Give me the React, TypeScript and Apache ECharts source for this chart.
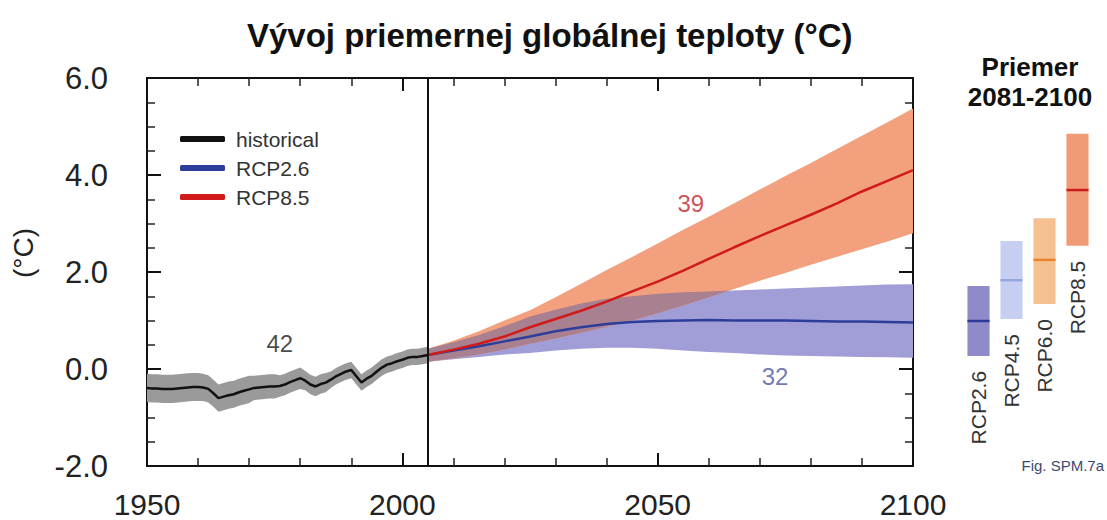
import React, { useEffect, useRef } from "react";
import * as echarts from "echarts";

const FONT = "'Liberation Sans', Arial, Helvetica, sans-serif";

// ---- historical (1950-2005), annual ----
const histStart = 1950;
const histMean = [
  -0.39, -0.4, -0.4, -0.41, -0.41, -0.41, -0.4, -0.39, -0.38, -0.37,
  -0.37, -0.38, -0.41, -0.5, -0.6, -0.57, -0.54, -0.52, -0.48, -0.45,
  -0.42, -0.39, -0.38, -0.37, -0.36, -0.36, -0.35, -0.32, -0.27, -0.23,
  -0.19, -0.24, -0.32, -0.36, -0.31, -0.28, -0.22, -0.15, -0.1, -0.05,
  -0.02, -0.15, -0.28, -0.2, -0.14, -0.05, 0.03, 0.09, 0.12, 0.16,
  0.19, 0.23, 0.25, 0.25, 0.27, 0.29,
];
const histLow = [
  -0.68, -0.69, -0.69, -0.7, -0.7, -0.7, -0.69, -0.68, -0.67, -0.66,
  -0.66, -0.66, -0.69, -0.78, -0.88, -0.85, -0.82, -0.8, -0.76, -0.73,
  -0.7, -0.64, -0.63, -0.62, -0.61, -0.61, -0.57, -0.54, -0.49, -0.45,
  -0.41, -0.44, -0.52, -0.56, -0.51, -0.48, -0.39, -0.32, -0.27, -0.22,
  -0.19, -0.32, -0.45, -0.37, -0.31, -0.22, -0.14, -0.08, -0.05, -0.01,
  0.02, 0.06, 0.08, 0.08, 0.1, 0.12,
];
const histHigh = [
  -0.1, -0.11, -0.11, -0.12, -0.12, -0.12, -0.11, -0.1, -0.09, -0.08,
  -0.08, -0.1, -0.13, -0.22, -0.32, -0.29, -0.26, -0.24, -0.2, -0.17,
  -0.14, -0.14, -0.13, -0.12, -0.11, -0.11, -0.13, -0.1, -0.05, -0.01,
  0.03, -0.04, -0.12, -0.16, -0.11, -0.08, -0.05, 0.02, 0.07, 0.12,
  0.15, 0.02, -0.11, -0.03, 0.03, 0.12, 0.2, 0.26, 0.29, 0.33,
  0.36, 0.4, 0.42, 0.42, 0.44, 0.46,
];
const histYears = histMean.map((_, i) => histStart + i);

// ---- projections (2005-2100), every 5 years ----
const projYears = [
  2005, 2010, 2015, 2020, 2025, 2030, 2035, 2040, 2045, 2050,
  2055, 2060, 2065, 2070, 2075, 2080, 2085, 2090, 2095, 2100,
];
const rcp85Mean = [
  0.29, 0.4, 0.52, 0.67, 0.86, 1.03, 1.2, 1.39, 1.6, 1.8,
  2.03, 2.27, 2.51, 2.74, 2.96, 3.18, 3.41, 3.66, 3.88, 4.1,
];
const rcp85Low = [
  0.15, 0.22, 0.3, 0.4, 0.52, 0.63, 0.75, 0.87, 1.0, 1.15,
  1.31, 1.48, 1.65, 1.82, 1.98, 2.15, 2.31, 2.47, 2.63, 2.8,
];
const rcp85High = [
  0.42, 0.58, 0.78, 1.0, 1.21, 1.48, 1.76, 2.04, 2.31, 2.59,
  2.87, 3.14, 3.42, 3.7, 3.98, 4.25, 4.53, 4.81, 5.09, 5.37,
];
const rcp26Mean = [
  0.29, 0.38, 0.47, 0.57, 0.67, 0.78, 0.86, 0.93, 0.97, 0.99,
  1.0, 1.01, 1.0, 1.0, 1.0, 0.99, 0.98, 0.98, 0.97, 0.96,
];
const rcp26Low = [
  0.15, 0.2, 0.25, 0.3, 0.33, 0.38, 0.42, 0.44, 0.44, 0.42,
  0.38, 0.35, 0.33, 0.3, 0.28, 0.27, 0.26, 0.25, 0.24, 0.23,
];
const rcp26High = [
  0.42, 0.55, 0.7, 0.88, 1.08, 1.22, 1.35, 1.45, 1.5, 1.55,
  1.58, 1.6, 1.62, 1.64, 1.66, 1.68, 1.7, 1.72, 1.74, 1.75,
];

// ---- 2081-2100 averages ----
const avgScenarios = ["RCP2.6", "RCP4.5", "RCP6.0", "RCP8.5"];
const avgLow = [0.27, 1.03, 1.34, 2.54];
const avgHigh = [1.71, 2.64, 3.11, 4.85];
const avgMean = [0.99, 1.83, 2.25, 3.69];

// ---- annotations (model counts) ----
const noteTexts = ["42", "39", "32"];
const noteYears = [1976, 2056.5, 2073];
const noteValues = [0.52, 3.42, -0.16];

// styles
const avgFill = ["#8f8bc9", "#c6cef2", "#f5c190", "#f09a76"];
const avgLine = ["#2b3b97", "#95a8de", "#e8832f", "#cc1b1b"];
const noteColors = ["#1a1a1a", "#c4242a", "#4a55a0"];

function band(xs: number[], lo: number[], hi: number[], fill: string, z: number) {
  return {
    type: "custom",
    xAxisIndex: 0,
    yAxisIndex: 0,
    silent: true,
    z,
    data: [[xs[0], lo[0]]],
    renderItem: (_p: any, api: any) => {
      const pts: number[][] = [];
      for (let i = 0; i < xs.length; i++) pts.push(api.coord([xs[i], hi[i]]));
      for (let i = xs.length - 1; i >= 0; i--) pts.push(api.coord([xs[i], lo[i]]));
      return { type: "polygon", shape: { points: pts }, style: { fill } };
    },
  };
}

function overlapBand(fill: string, z: number) {
  return {
    type: "custom",
    xAxisIndex: 0,
    yAxisIndex: 0,
    silent: true,
    z,
    data: [[projYears[0], rcp26Low[0]]],
    renderItem: (_p: any, api: any) => {
      const top = projYears.map((_, i) => Math.min(rcp85High[i], rcp26High[i]));
      const bot = projYears.map((_, i) => Math.max(rcp85Low[i], rcp26Low[i]));
      let k = 0;
      while (k + 1 < projYears.length && top[k + 1] >= bot[k + 1]) k++;
      const up: number[][] = [];
      const dn: number[][] = [];
      for (let i = 0; i <= k; i++) {
        up.push(api.coord([projYears[i], top[i]]));
        dn.push(api.coord([projYears[i], bot[i]]));
      }
      if (k + 1 < projYears.length) {
        const d0 = top[k] - bot[k];
        const d1 = top[k + 1] - bot[k + 1];
        const t = d0 / (d0 - d1);
        const x = projYears[k] + t * (projYears[k + 1] - projYears[k]);
        const y = top[k] + t * (top[k + 1] - top[k]);
        up.push(api.coord([x, y]));
      }
      return {
        type: "polygon",
        shape: { points: up.concat(dn.reverse()) },
        style: { fill },
      };
    },
  };
}

function makeX(position: string, showLabel: boolean) {
  return {
    type: "value",
    gridIndex: 0,
    position,
    min: 1950,
    max: 2100,
    interval: 50,
    axisLine: { show: true, onZero: false, lineStyle: { color: "#111", width: 2 } },
    axisTick: { show: true, inside: true, length: 13, lineStyle: { color: "#111", width: 2 } },
    minorTick: { show: true, splitNumber: 5, length: 8, lineStyle: { color: "#222", width: 1.5 } },
    splitLine: { show: false },
    minorSplitLine: { show: false },
    axisLabel: showLabel
      ? {
          fontSize: 30,
          lineHeight: 28,
          color: "#222",
          margin: 24,
          fontFamily: FONT,
          formatter: (v: number) => String(v),
        }
      : { show: false },
  };
}

function makeY(position: string, showLabel: boolean) {
  return {
    type: "value",
    gridIndex: 0,
    position,
    min: -2,
    max: 6,
    interval: 2,
    axisLine: { show: true, onZero: false, lineStyle: { color: "#111", width: 2 } },
    axisTick: { show: true, inside: true, length: 14, lineStyle: { color: "#111", width: 2 } },
    minorTick: { show: true, splitNumber: 4, length: 8, lineStyle: { color: "#222", width: 1.5 } },
    splitLine: { show: false },
    minorSplitLine: { show: false },
    axisLabel: showLabel
      ? {
          fontSize: 31,
          color: "#222",
          margin: 39,
          fontFamily: FONT,
          formatter: (v: number) => v.toFixed(1),
        }
      : { show: false },
  };
}

export default function App() {
  const ref = useRef<HTMLDivElement>(null);
  useEffect(() => {
    document.body.style.margin = "0";
    const chart = echarts.init(ref.current!, null, { renderer: "svg" });
    chart.setOption({
      animation: false,
      backgroundColor: "#ffffff",
      textStyle: { fontFamily: FONT },
      title: {
        text: "Vývoj priemernej globálnej teploty (°C)",
        left: 242,
        top: 14,
        textStyle: { fontSize: 33, fontWeight: "bold", color: "#111", fontFamily: FONT },
      },
      legend: {
        data: ["historical", "RCP2.6", "RCP8.5"],
        orient: "vertical",
        left: 175,
        top: 123,
        icon: "roundRect",
        itemWidth: 45,
        itemHeight: 6,
        itemGap: 7,
        selectedMode: false,
        textStyle: { fontSize: 21, color: "#333", lineHeight: 22, fontFamily: FONT, padding: [0, 0, 0, 6] },
      },
      grid: [
        { left: 147, right: 194, top: 78, bottom: 54 },
        { left: 962, width: 132, top: 78, bottom: 54 },
      ],
      xAxis: [
        makeX("bottom", true),
        makeX("top", false),
        { type: "category", gridIndex: 1, data: avgScenarios, show: false },
      ],
      yAxis: [
        makeY("left", true),
        makeY("right", false),
        { type: "value", gridIndex: 1, min: -2, max: 6, show: false },
      ],
      graphic: [
        {
          type: "text",
          x: 23,
          y: 253,
          rotation: Math.PI / 2,
          style: { text: "(°C)", fontSize: 28, fill: "#222", align: "center", verticalAlign: "middle", fontFamily: FONT },
        },
        {
          type: "text",
          x: 1030,
          y: 67,
          style: { text: "Priemer", fontSize: 26, fontWeight: "bold", fill: "#111", align: "center", verticalAlign: "middle", fontFamily: FONT },
        },
        {
          type: "text",
          x: 1030,
          y: 97,
          style: { text: "2081-2100", fontSize: 26, fontWeight: "bold", fill: "#111", align: "center", verticalAlign: "middle", fontFamily: FONT },
        },
        {
          type: "text",
          x: 1104,
          y: 465,
          style: { text: "Fig. SPM.7a", fontSize: 15, fill: "#3c4a70", align: "right", verticalAlign: "middle", fontFamily: FONT },
        },
      ],
      series: [
        band(projYears, rcp26Low, rcp26High, "#a19dd6", 1),
        band(projYears, rcp85Low, rcp85High, "#f2a07e", 1),
        overlapBand("#a9808f", 1),
        band(histYears, histLow, histHigh, "#9a9a9a", 1),
        {
          name: "RCP2.6",
          type: "line",
          xAxisIndex: 0,
          yAxisIndex: 0,
          symbol: "none",
          z: 3,
          color: "#2d3e9a",
          lineStyle: { color: "#2d3e9a", width: 2.5 },
          data: projYears.map((y, i) => [y, rcp26Mean[i]]),
        },
        {
          name: "RCP8.5",
          type: "line",
          xAxisIndex: 0,
          yAxisIndex: 0,
          symbol: "none",
          z: 3,
          color: "#d11a1a",
          lineStyle: { color: "#d11a1a", width: 2.5 },
          data: projYears.map((y, i) => [y, rcp85Mean[i]]),
        },
        {
          name: "historical",
          type: "line",
          xAxisIndex: 0,
          yAxisIndex: 0,
          symbol: "none",
          z: 3,
          color: "#111",
          lineStyle: { color: "#111", width: 2.5 },
          data: histYears.map((y, i) => [y, histMean[i]]),
          markLine: {
            silent: true,
            symbol: ["none", "none"],
            label: { show: false },
            lineStyle: { color: "#111", width: 2, type: "solid" },
            data: [{ xAxis: 2005 }],
          },
        },
        {
          type: "scatter",
          xAxisIndex: 0,
          yAxisIndex: 0,
          symbolSize: 1,
          itemStyle: { color: "rgba(0,0,0,0)" },
          silent: true,
          z: 4,
          data: noteTexts.map((t, i) => ({
            value: [noteYears[i], noteValues[i]],
            label: {
              show: true,
              position: "inside",
              formatter: t,
              fontSize: 24,
              color: noteColors[i],
              fontFamily: FONT,
            },
          })),
        },
        {
          type: "custom",
          xAxisIndex: 2,
          yAxisIndex: 2,
          silent: true,
          data: avgScenarios.map((_, i) => [i, avgLow[i], avgHigh[i], avgMean[i]]),
          encode: { x: 0, y: [1, 2, 3] },
          renderItem: (params: any, api: any) => {
            const idx = params.dataIndex;
            const i = api.value(0);
            const top = api.coord([i, api.value(2)]);
            const bot = api.coord([i, api.value(1)]);
            const m = api.coord([i, api.value(3)]);
            const w = api.size([1, 0])[0] * 0.67;
            return {
              type: "group",
              children: [
                {
                  type: "rect",
                  shape: { x: top[0] - w / 2, y: top[1], width: w, height: bot[1] - top[1] },
                  style: { fill: avgFill[idx] },
                },
                {
                  type: "line",
                  shape: { x1: m[0] - w / 2, y1: m[1], x2: m[0] + w / 2, y2: m[1] },
                  style: { stroke: avgLine[idx], lineWidth: 2.5 },
                },
                {
                  type: "text",
                  x: bot[0],
                  y: bot[1] + 15,
                  rotation: Math.PI / 2,
                  style: {
                    text: avgScenarios[idx],
                    fontSize: 21,
                    fill: "#333",
                    align: "right",
                    verticalAlign: "middle",
                    fontFamily: FONT,
                  },
                },
              ],
            };
          },
        },
      ],
    });
    return () => chart.dispose();
  }, []);
  return <div ref={ref} style={{ width: 1107, height: 520 }} />;
}
